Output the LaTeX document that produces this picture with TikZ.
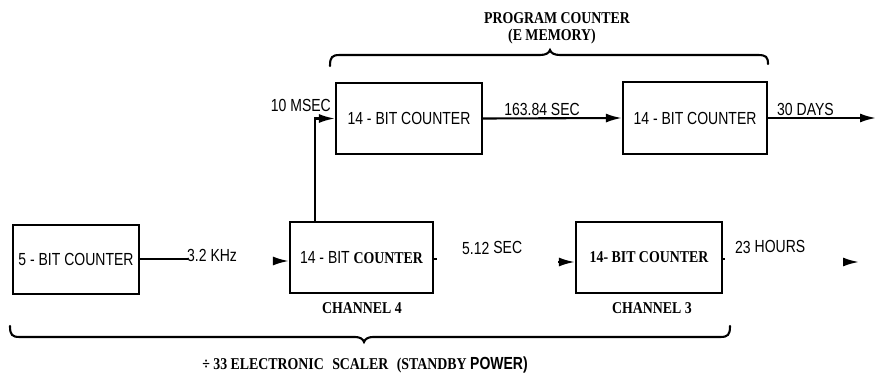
\documentclass[tikz,border=0pt]{standalone}
\usepackage{fontspec}
\usetikzlibrary{arrows.meta}
\newfontfamily\lett[FakeStretch=0.8]{Liberation Sans}
\newfontfamily\serb[FakeStretch=0.84]{Liberation Serif}
\newcommand{\LT}{\lett\fontsize{17.5}{19}\selectfont}
\newcommand{\SB}{\serb\bfseries\fontsize{16.5}{19}\selectfont}
\begin{document}
\begin{tikzpicture}[x=1pt,y=-1pt,
  box/.style={draw,line width=2.2pt,inner sep=0pt,anchor=center,font=\LT},
  wire/.style={line width=2.1pt},
  arr/.style={line width=2.1pt,-{Latex[length=16pt,width=9pt]}},
  lbl/.style={inner sep=0pt,font=\LT},
  slbl/.style={inner sep=0pt,font=\SB},
  brace/.style={line width=2.1pt,line cap=round}]
\useasboundingbox (0,0) rectangle (876,377);
% boxes
\node[box,minimum width=126pt,minimum height=69pt] (b5) at (76,259.5) {5 - BIT COUNTER};
\node[box,minimum width=143pt,minimum height=71pt] (c4) at (361.5,257.5) {14 - BIT {\SB COUNTER}};
\node[box,minimum width=146pt,minimum height=71pt] (c3) at (649,257.5) {\SB 14- BIT COUNTER};
\node[box,minimum width=146pt,minimum height=71pt] (p1) at (409,118.5) {14 - BIT COUNTER};
\node[box,minimum width=144pt,minimum height=72pt] (p2) at (695,118) {14 - BIT COUNTER};
% labels
\node[slbl] (pc) at (557,18) {PROGRAM COUNTER};
\node[slbl] (em) at (552,37) {(E MEMORY)};
\node[lbl,anchor=east] (ms) at (331,105) {10 MSEC};
\node[lbl] (s163) at (542,109) {163.84 SEC};
\node[lbl,anchor=west] (d30) at (777,109) {30 DAYS};
\node[lbl,anchor=west] (khz) at (187,255) {3.2 KHz};
\node[lbl,anchor=west] (s512) at (462,248) {5.12 \raisebox{1.5pt}{SEC}};
\node[lbl,anchor=west] (h23) at (735,247) {23 \raisebox{1.5pt}{HOURS}};
\node[slbl] (ch4) at (362,308) {CHANNEL 4};
\node[slbl] (ch3) at (652,308) {CHANNEL 3};
\node[inner sep=0pt,font=\SB] (esc) at (365,365) {÷ 33 ELECTRONIC\hspace{0.3em} SCALER\hspace{0.3em} (STANDBY {\LT POWER)}};
% coordinates
\coordinate (k1) at (188,259);
\coordinate (a4) at (273,261);
\coordinate (v) at (315,0);
\coordinate (o2) at (876,118);
\coordinate (a3) at (558,262);
\coordinate (f1) at (843,262);
\coordinate (f2) at (859,262);
\coordinate (t4) at (437,259);
\coordinate (t3) at (725,259);
% connectors
\draw[wire] (b5.east |- k1) -- (k1);
\draw[arr] (a4) -- (a4 -| c4.west);
\draw[arr] (v |- c4.north) |- (p1.west);
\draw[arr] (p1.east) -- (p2.west);
\draw[arr] (p2.east) -- (o2);
\draw[arr] (a3) -- (a3 -| c3.west);
\draw[arr] (f1) -- (f2);
\draw[wire] (c4.east |- t4) -- (t4);
\draw[wire] (c3.east |- t3) -- (t3);
% braces
\draw[brace] (330,66) .. controls (330,57) and (332,55) .. (340,55) -- (540,55)
  .. controls (546,55) and (549,53) .. (550,50) .. controls (551,53) and (554,55) .. (560,55)
  -- (758,55) .. controls (766,55) and (768,57) .. (768,64);
\draw[brace] (10,326) .. controls (10,335) and (12,337) .. (20,337) -- (355,337)
  .. controls (360,337) and (363,339) .. (364,342) .. controls (365,339) and (368,337) .. (373,337)
  -- (720,337) .. controls (728,337) and (730,335) .. (730,326);
\end{tikzpicture}
\end{document}
